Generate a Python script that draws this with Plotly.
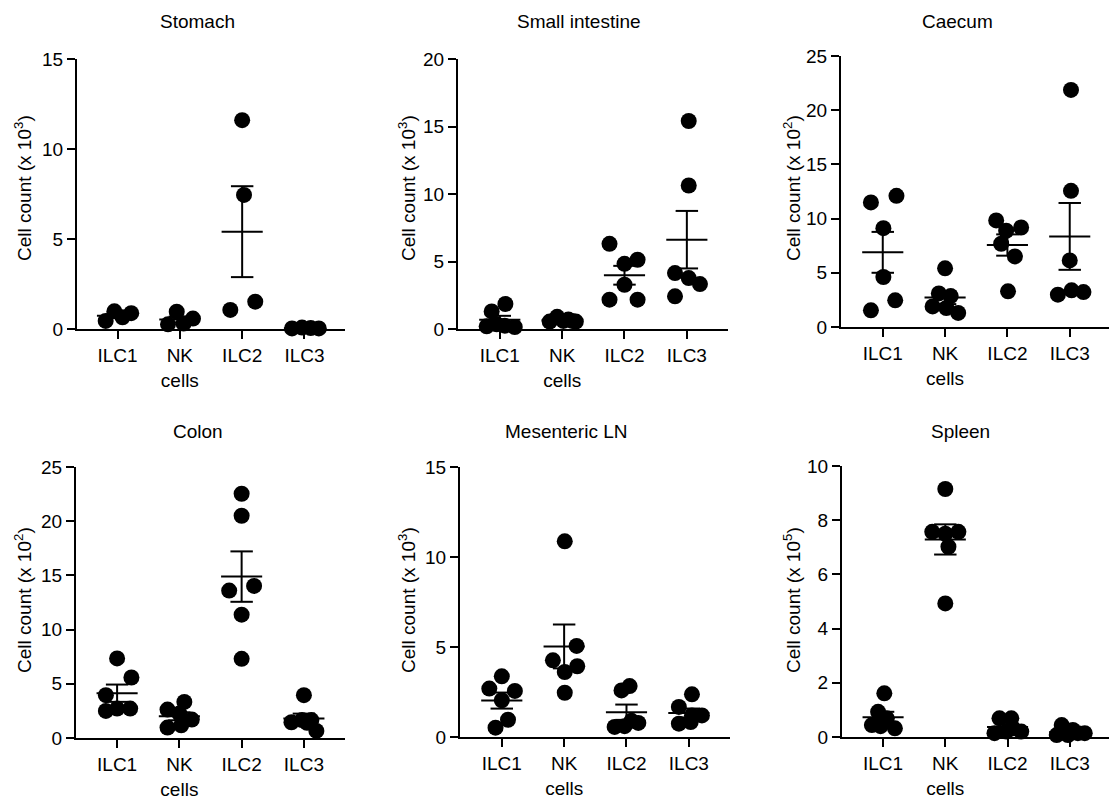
import numpy as np
import plotly.graph_objects as go

# ---------------- data ----------------
categories = ["ILC1", "NK cells", "ILC2", "ILC3"]
tick_labels = ["ILC1", "NK<br>cells", "ILC2", "ILC3"]

panel_titles = ["Stomach", "Small intestine", "Caecum", "Colon", "Mesenteric LN", "Spleen"]
panel_exponents = [3, 3, 2, 2, 3, 5]
panel_ymax = [15, 20, 25, 25, 15, 10]
panel_ytick_step = [5, 5, 5, 5, 5, 2]

# values per group (ILC1, NK cells, ILC2, ILC3)
stomach = [
    [0.45, 0.98, 0.65, 0.88],
    [0.26, 0.96, 0.30, 0.58],
    [11.6, 7.45, 1.06, 1.52],
    [0.03, 0.08, 0.05, 0.03],
]
small_intestine = [
    [1.30, 1.85, 0.20, 0.35, 0.25, 0.15],
    [0.55, 0.90, 0.60, 0.70, 0.60, 0.55],
    [6.31, 4.83, 5.13, 3.28, 2.17, 2.17],
    [15.41, 10.63, 4.14, 3.77, 3.33, 2.42],
]
caecum = [
    [11.49, 12.10, 9.12, 4.61, 2.46, 1.54],
    [5.41, 3.10, 2.85, 1.90, 1.30, 1.75],
    [9.83, 9.18, 8.88, 7.68, 6.51, 3.29],
    [21.87, 12.56, 6.14, 2.98, 3.38, 3.22],
]
colon = [
    [7.34, 5.58, 3.95, 2.50, 2.71, 2.71],
    [3.33, 2.62, 2.25, 1.70, 0.96, 1.17],
    [22.53, 20.50, 13.60, 14.03, 11.38, 7.30],
    [3.95, 1.45, 1.65, 1.65, 1.40, 0.65],
]
mesenteric_ln = [
    [3.37, 2.69, 2.56, 2.04, 0.96, 0.52],
    [10.87, 5.06, 4.26, 3.93, 3.61, 2.46],
    [2.83, 2.59, 0.56, 0.60, 0.78, 0.90],
    [2.37, 1.67, 1.20, 1.20, 0.74, 0.83],
]
spleen = [
    [1.61, 0.93, 0.44, 0.69, 0.32, 0.40],
    [9.15, 7.57, 7.50, 7.57, 7.02, 4.93],
    [0.69, 0.69, 0.14, 0.20, 0.20, 0.32],
    [0.44, 0.07, 0.26, 0.14, 0.07, 0.14],
]

# horizontal scatter (jitter) of each dot, in category widths
stomach_jitter = [
    [-0.19, -0.05, 0.08, 0.22],
    [-0.19, -0.05, 0.06, 0.21],
    [0.00, 0.03, -0.19, 0.21],
    [-0.20, -0.04, 0.10, 0.23],
]
small_intestine_jitter = [
    [-0.13, 0.09, -0.21, -0.05, 0.08, 0.24],
    [-0.20, -0.08, 0.02, 0.10, 0.16, 0.22],
    [-0.24, 0.00, 0.21, 0.00, -0.24, 0.21],
    [0.03, 0.03, -0.19, 0.03, 0.21, -0.19],
]
caecum_jitter = [
    [-0.19, 0.22, 0.01, 0.01, 0.20, -0.19],
    [0.00, -0.10, 0.09, -0.20, 0.21, 0.02],
    [-0.18, 0.22, -0.02, -0.10, 0.12, 0.01],
    [0.02, 0.02, 0.00, -0.19, 0.03, 0.22],
]
colon_jitter = [
    [0.00, 0.23, -0.18, -0.18, 0.00, 0.21],
    [0.08, -0.19, 0.00, 0.20, -0.19, 0.03],
    [0.00, 0.00, -0.20, 0.20, 0.00, 0.00],
    [0.00, -0.20, -0.03, 0.12, 0.05, 0.20],
]
mesenteric_ln_jitter = [
    [0.00, -0.20, 0.21, 0.00, 0.10, -0.10],
    [0.01, 0.20, -0.18, 0.21, 0.01, 0.01],
    [0.05, -0.08, -0.19, -0.03, 0.19, 0.08],
    [0.05, -0.16, 0.05, 0.21, -0.16, 0.03],
]
spleen_jitter = [
    [0.02, -0.08, -0.18, 0.06, 0.19, -0.04],
    [0.00, -0.21, 0.00, 0.21, 0.05, 0.00],
    [-0.13, 0.06, -0.21, -0.02, 0.22, 0.09],
    [-0.13, -0.21, 0.05, 0.24, -0.03, 0.13],
]

panel_values = [stomach, small_intestine, caecum, colon, mesenteric_ln, spleen]
panel_jitter = [stomach_jitter, small_intestine_jitter, caecum_jitter,
                colon_jitter, mesenteric_ln_jitter, spleen_jitter]

# ---------------- layout geometry (pixels) ----------------
W, H = 1109, 801
x_dom_px = [(77, 345), (458, 728), (841, 1109), (76, 345), (460, 730), (842, 1109)]
y_dom_px = [(59, 329), (59, 329), (56, 327), (467, 738), (467, 737), (466, 737)]
x_ranges = [(-0.65, 3.65), (-0.67, 3.66), (-0.67, 3.63),
            (-0.66, 3.66), (-0.67, 3.66), (-0.66, 3.63)]
title_pos = [(197, 22), (579, 22), (957, 22), (198, 431), (566, 431), (960, 431)]
ytitle_pos = [(23, 188), (407, 188), (792, 188), (23, 600), (407, 600), (792, 600)]

FONT = "Liberation Sans, Arial, Helvetica, sans-serif"
BLACK = "#000000"
MEAN_HALF = 0.33
CAP_HALF = 0.18

fig = go.Figure()
annotations = []

for p in range(6):
    sfx = "" if p == 0 else str(p + 1)
    xa, ya = "x" + sfx, "y" + sfx
    vals = panel_values[p]
    jit = panel_jitter[p]

    xs, ys = [], []
    for g, (v, j) in enumerate(zip(vals, jit)):
        xs += [g + o for o in j]
        ys += list(v)
    fig.add_trace(go.Scatter(
        x=xs, y=ys, mode="markers", xaxis=xa, yaxis=ya,
        marker=dict(size=16, color=BLACK, line=dict(width=0)),
        cliponaxis=False, showlegend=False, hoverinfo="y"))

    lx, ly = [], []
    for g, v in enumerate(vals):
        arr = np.array(v, dtype=float)
        m = arr.mean()
        sem = arr.std(ddof=1) / np.sqrt(len(arr))
        lx += [g - MEAN_HALF, g + MEAN_HALF, None,
               g, g, None,
               g - CAP_HALF, g + CAP_HALF, None,
               g - CAP_HALF, g + CAP_HALF, None]
        ly += [m, m, None,
               m - sem, m + sem, None,
               m + sem, m + sem, None,
               m - sem, m - sem, None]
    fig.add_trace(go.Scatter(
        x=lx, y=ly, mode="lines", xaxis=xa, yaxis=ya,
        line=dict(color=BLACK, width=2), cliponaxis=False,
        showlegend=False, hoverinfo="skip"))

    x0, x1 = x_dom_px[p]
    yt, yb = y_dom_px[p]
    common = dict(showline=True, linecolor=BLACK, linewidth=2,
                  ticks="outside", ticklen=8, tickwidth=2, tickcolor=BLACK,
                  showgrid=False, zeroline=False, automargin=False,
                  tickfont=dict(family=FONT, size=19, color=BLACK))
    fig.update_layout(**{
        "xaxis" + sfx: dict(domain=[x0 / W, x1 / W], range=list(x_ranges[p]),
                            anchor=ya, tickmode="array",
                            tickvals=list(range(len(categories))),
                            ticktext=tick_labels, **common),
        "yaxis" + sfx: dict(domain=[1 - yb / H, 1 - yt / H],
                            range=[0, panel_ymax[p]], anchor=xa,
                            tickmode="linear", tick0=0, dtick=panel_ytick_step[p],
                            **common),
    })

    tx, ty = title_pos[p]
    annotations.append(dict(text=panel_titles[p], x=tx / W, y=1 - ty / H,
                            xref="paper", yref="paper", showarrow=False,
                            xanchor="center", yanchor="middle",
                            font=dict(family=FONT, size=19, color=BLACK)))
    ax_, ay_ = ytitle_pos[p]
    annotations.append(dict(text="Cell count (x 10<sup>%d</sup>)" % panel_exponents[p],
                            x=ax_ / W, y=1 - ay_ / H, xref="paper", yref="paper",
                            showarrow=False, textangle=-90,
                            xanchor="center", yanchor="middle",
                            font=dict(family=FONT, size=19, color=BLACK)))

fig.update_layout(template="none", width=W, height=H,
                  margin=dict(l=0, r=0, t=0, b=0, autoexpand=False),
                  paper_bgcolor="white", plot_bgcolor="white",
                  annotations=annotations, showlegend=False)

fig.write_html("out.html", config={"displayModeBar": False},
               post_script="document.body.style.margin='0';")
